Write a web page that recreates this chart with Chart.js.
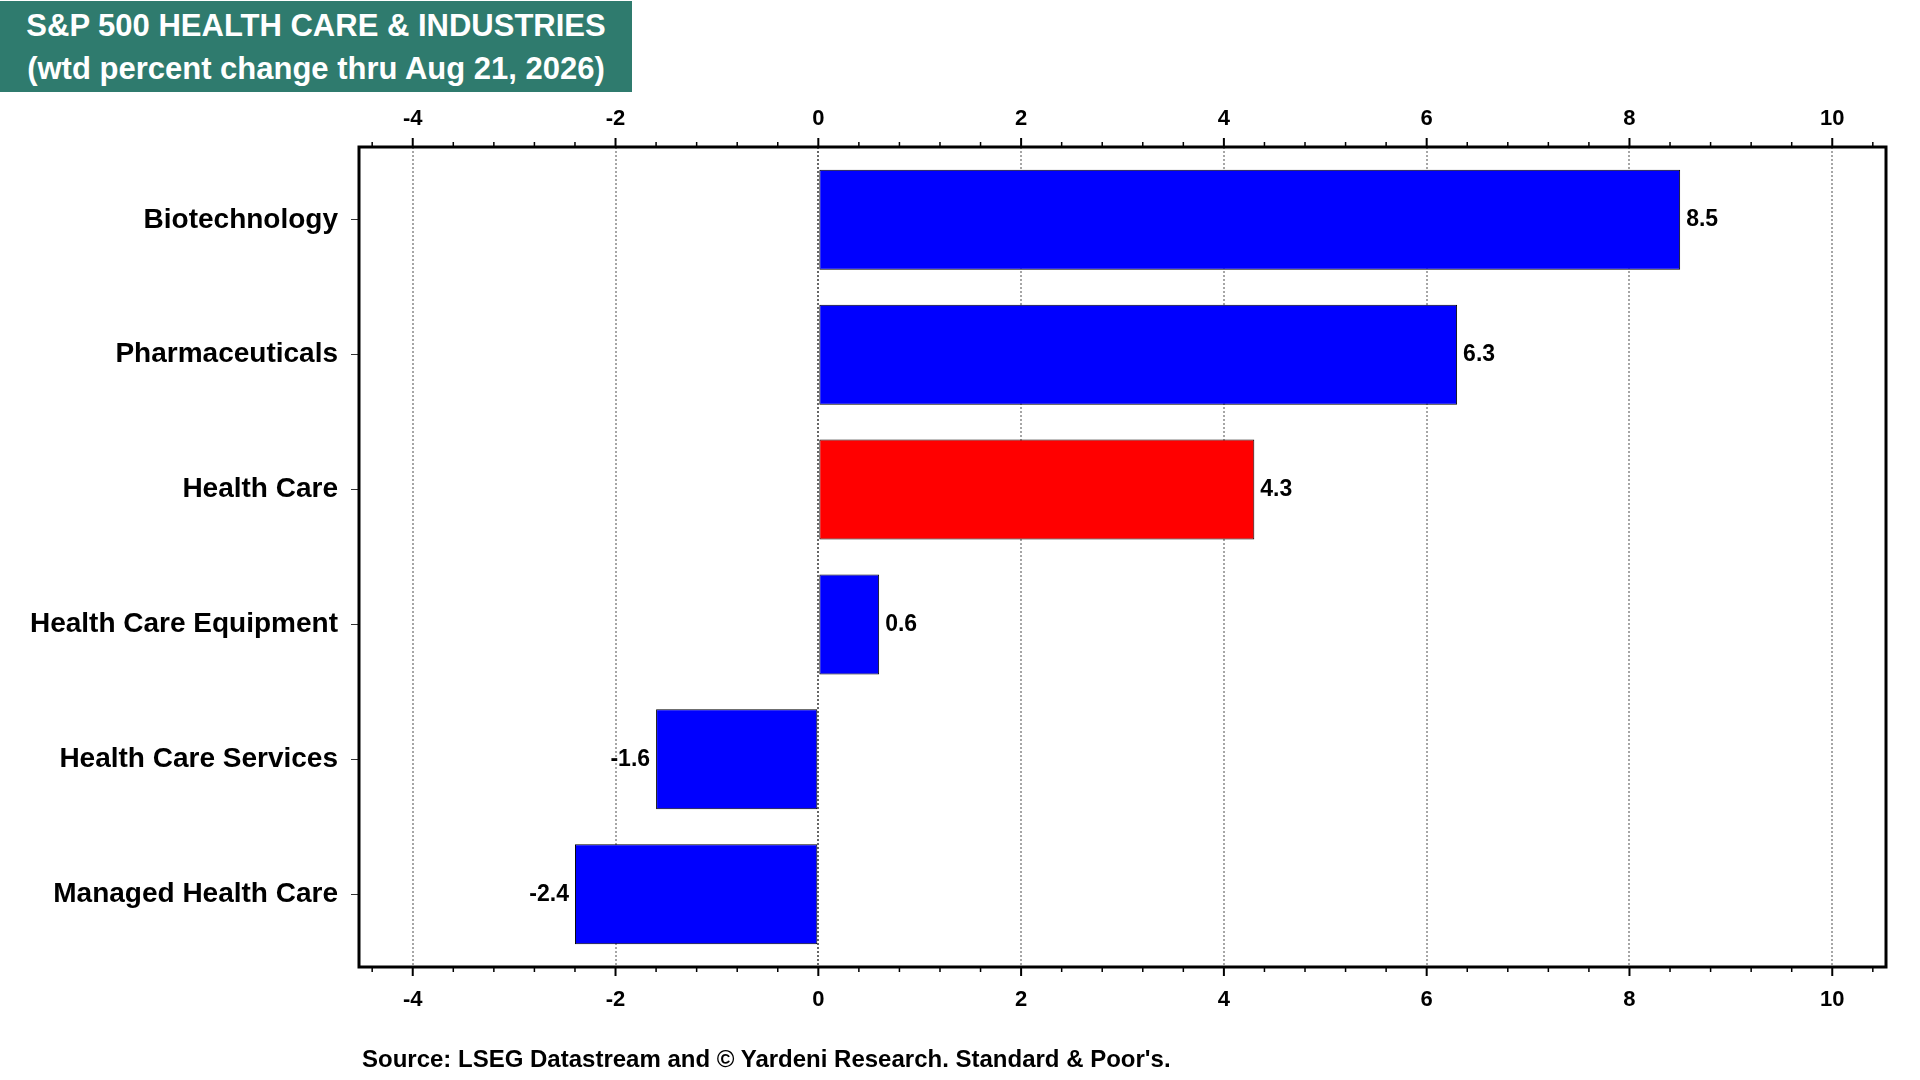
<!DOCTYPE html>
<html>
<head>
<meta charset="utf-8">
<title>S&amp;P 500 Health Care &amp; Industries</title>
<script src="https://cdn.jsdelivr.net/npm/chart.js@4.4.1/dist/chart.umd.min.js"></script>
<style>
  body { margin: 0; background: #fff; }
  #wrap { position: relative; width: 1920px; height: 1080px; }
  #title {
    position: absolute; left: 0; top: 1px; width: 632px; height: 91px;
    background: #2f7b6e; color: #fff; text-align: center;
    font: bold 31px 'Liberation Sans', Arial, sans-serif; line-height: 43px;
    padding-top: 3px; box-sizing: border-box;
  }
  #source {
    position: absolute; left: 362px; top: 1045px;
    font: bold 24px 'Liberation Sans', Arial, sans-serif; color: #000;
  }
</style>
</head>
<body>
<div id="wrap">
  <canvas id="chart"></canvas>
  <div id="title">S&amp;P 500 HEALTH CARE &amp; INDUSTRIES<br>(wtd percent change thru Aug 21, 2026)</div>
  <div id="source">Source: LSEG Datastream and © Yardeni Research. Standard &amp; Poor's.</div>
</div>
<script>
// chart data
const categories = ['Biotechnology', 'Pharmaceuticals', 'Health Care', 'Health Care Equipment', 'Health Care Services', 'Managed Health Care'];
const changes = [8.5, 6.3, 4.3, 0.6, -1.6, -2.4];
const xTicks = [-4, -2, 0, 2, 4, 6, 8, 10];
const highlight = 'Health Care';

const FONT = "'Liberation Sans', Arial, sans-serif";

// frame round the plot + minor/major tick marks on top and bottom axes
const framePlugin = {
  id: 'frame',
  afterDatasetsDraw(chart) {
    const { ctx, chartArea: a } = chart;
    const xs = chart.scales.x;
    ctx.save();
    ctx.strokeStyle = '#000';
    for (let v = -4.4; v <= 10.5; v += 0.4) {
      const val = Math.round(v * 10) / 10;
      const px = xs.getPixelForValue(val);
      const major = Math.abs(val % 2) < 0.01;
      const len = major ? 9 : 5;
      ctx.lineWidth = major ? 2 : 1.5;
      ctx.beginPath();
      ctx.moveTo(px, a.top); ctx.lineTo(px, a.top - len);
      ctx.moveTo(px, a.bottom); ctx.lineTo(px, a.bottom + len);
      ctx.stroke();
    }
    ctx.lineWidth = 3;
    ctx.strokeRect(a.left, a.top, a.right - a.left, a.bottom - a.top);
    ctx.restore();
  }
};

// value labels at bar ends
const valueLabels = {
  id: 'valueLabels',
  afterDatasetsDraw(chart) {
    const { ctx } = chart;
    const meta = chart.getDatasetMeta(0);
    ctx.save();
    ctx.font = 'bold 23px ' + FONT;
    ctx.fillStyle = '#000';
    ctx.textBaseline = 'middle';
    meta.data.forEach((bar, i) => {
      const v = changes[i];
      if (v >= 0) {
        ctx.textAlign = 'left';
        ctx.fillText(v.toFixed(1), bar.x + 6, bar.y);
      } else {
        ctx.textAlign = 'right';
        ctx.fillText(v.toFixed(1), bar.x - 6, bar.y);
      }
    });
    ctx.restore();
  }
};

const setMajors = scale => { scale.ticks = xTicks.map(v => ({ value: v })); };

new Chart(document.getElementById('chart'), {
  type: 'bar',
  data: {
    datasets: [{
      data: changes.map((v, i) => ({ x: v, y: i })),
      backgroundColor: ctx => categories[ctx.dataIndex] === highlight ? '#ff0000' : '#0000ff',
      borderColor: '#000',
      borderWidth: 1,
      borderSkipped: false,
      barPercentage: 0.742,
      categoryPercentage: 1
    }]
  },
  options: {
    indexAxis: 'y',
    responsive: true,
    maintainAspectRatio: false,
    animation: false,
    layout: { padding: { left: 0, right: 34, top: 92, bottom: 53 } },
    plugins: { legend: { display: false }, tooltip: { enabled: false } },
    scales: {
      x: {
        type: 'linear', position: 'top', min: -4.53, max: 10.53,
        afterBuildTicks: setMajors,
        afterFit: s => { s.height = 55; },
        grid: {
          color: ctx => ctx.tick && ctx.tick.value === 0 ? '#666' : '#a6a6a6',
          lineWidth: 2, drawTicks: false
        },
        border: { display: false, dash: [2, 2] },
        ticks: { color: '#000', padding: 15, font: { family: FONT, size: 22, weight: 'bold' } }
      },
      x2: {
        type: 'linear', position: 'bottom', min: -4.53, max: 10.53,
        afterBuildTicks: setMajors,
        afterFit: s => { s.height = 60; },
        grid: { display: false },
        border: { display: false },
        ticks: { color: '#000', padding: 12, font: { family: FONT, size: 22, weight: 'bold' } }
      },
      y: {
        type: 'linear', reverse: true, min: -0.54, max: 5.54, offset: false,
        afterBuildTicks: s => { s.ticks = categories.map((c, i) => ({ value: i })); },
        afterFit: s => { s.width = 359; },
        grid: { offset: false, drawOnChartArea: false, drawTicks: true, tickLength: 8, color: '#333', lineWidth: 1 },
        border: { display: false },
        ticks: {
          color: '#000', padding: 13,
          font: { family: FONT, size: 28, weight: 'bold' },
          callback: v => categories[v]
        }
      }
    }
  },
  plugins: [framePlugin, valueLabels]
});
</script>
</body>
</html>
